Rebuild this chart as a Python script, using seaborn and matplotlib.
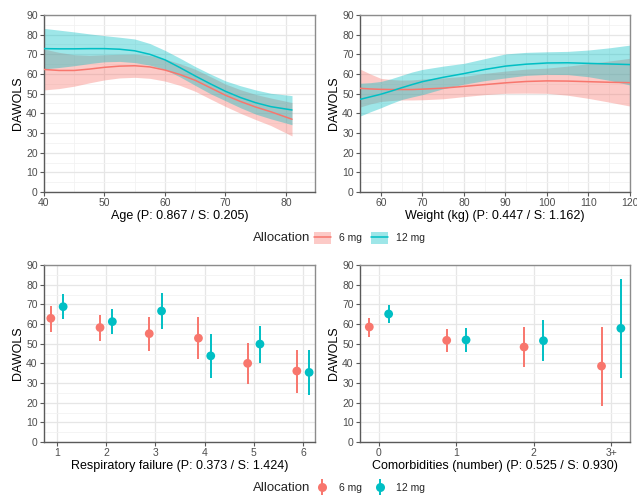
import numpy as np
import pandas as pd
import matplotlib
matplotlib.use("Agg")
import matplotlib.pyplot as plt
from matplotlib.patches import Patch
from matplotlib.lines import Line2D
from matplotlib.ticker import MultipleLocator, FixedLocator
import seaborn as sns

# ---------------- data ----------------
groups = ["6 mg", "12 mg"]
colors = {"6 mg": "#F8766D", "12 mg": "#00BFC4"}

age = [40, 42.5, 45, 47.5, 50, 52.5, 55, 57.5, 60, 62.5, 65, 67.5, 70, 72.5, 75, 77.5, 81]
age_fit_6 = [62.3, 61.8, 61.8, 62.5, 63.4, 64.0, 64.2, 63.6, 62.0, 59.7, 56.8, 53.0, 49.2, 46.0, 43.2, 40.8, 37.0]
age_lo_6 = [51.9, 52.6, 53.8, 55.5, 57.0, 58.0, 58.3, 57.8, 56.4, 54.2, 51.2, 47.3, 43.5, 40.0, 36.8, 33.8, 28.5]
age_hi_6 = [72.7, 71.0, 69.8, 69.5, 69.8, 70.0, 70.1, 69.4, 67.6, 65.2, 62.4, 58.7, 54.9, 52.0, 49.6, 47.8, 45.5]
age_fit_12 = [72.9, 72.8, 72.8, 72.9, 72.9, 72.6, 71.8, 70.0, 67.2, 63.2, 59.0, 55.0, 51.2, 48.0, 45.4, 43.4, 41.7]
age_lo_12 = [62.6, 63.3, 64.2, 65.3, 66.2, 66.4, 65.8, 64.5, 62.3, 58.5, 54.2, 50.0, 46.4, 42.8, 39.6, 37.2, 34.2]
age_hi_12 = [83.2, 82.3, 81.4, 80.4, 79.5, 78.7, 77.8, 75.5, 72.0, 68.0, 63.8, 60.0, 56.5, 54.0, 51.9, 50.2, 49.0]

weight = [55, 57.5, 60, 62.5, 65, 67.5, 70, 75, 80, 85, 90, 95, 100, 105, 110, 115, 120]
wt_fit_6 = [52.7, 52.4, 52.2, 52.1, 52.1, 52.1, 52.3, 52.8, 53.7, 54.6, 55.5, 56.2, 56.5, 56.4, 56.1, 55.8, 55.6]
wt_lo_6 = [43.2, 44.8, 46.0, 46.5, 46.8, 46.8, 46.9, 47.4, 48.5, 49.5, 50.2, 50.3, 50.2, 49.2, 47.6, 45.7, 43.7]
wt_hi_6 = [62.5, 60.0, 57.8, 57.2, 56.9, 57.0, 57.4, 58.0, 58.8, 60.3, 61.5, 62.5, 63.0, 64.0, 65.3, 66.6, 68.0]
wt_fit_12 = [47.1, 48.4, 49.7, 51.3, 53.0, 54.6, 56.1, 58.3, 60.2, 62.3, 64.0, 65.0, 65.6, 65.7, 65.4, 65.1, 64.8]
wt_lo_12 = [38.6, 40.8, 42.8, 45.0, 47.0, 48.3, 49.5, 52.5, 54.8, 56.6, 58.0, 59.3, 59.8, 59.7, 58.6, 56.8, 54.4]
wt_hi_12 = [55.3, 55.6, 56.2, 57.6, 59.3, 61.0, 62.3, 64.0, 65.4, 67.8, 70.2, 71.0, 71.3, 71.5, 72.2, 73.3, 74.7]

resp_cats = ["1", "2", "3", "4", "5", "6"]
resp_est_6 = [62.9, 58.2, 55.1, 52.8, 40.0, 36.1]
resp_lo_6 = [56.1, 51.5, 46.3, 42.0, 29.3, 25.1]
resp_hi_6 = [69.3, 64.5, 63.7, 63.4, 50.3, 46.8]
resp_est_12 = [68.8, 61.2, 66.6, 43.8, 49.8, 35.4]
resp_lo_12 = [62.5, 54.7, 57.5, 32.7, 40.3, 24.1]
resp_hi_12 = [75.2, 67.6, 75.6, 54.8, 59.1, 46.8]

com_cats = ["0", "1", "2", "3+"]
com_est_6 = [58.5, 51.7, 48.3, 38.6]
com_lo_6 = [53.6, 45.9, 38.3, 18.5]
com_hi_6 = [63.1, 57.5, 58.3, 58.7]
com_est_12 = [65.1, 51.9, 51.5, 57.8]
com_lo_12 = [60.3, 45.9, 41.2, 32.5]
com_hi_12 = [69.8, 57.9, 61.8, 82.8]

# ---------------- style ----------------
sns.set_theme(style="white")
plt.rcParams["font.family"] = ["Liberation Sans", "DejaVu Sans"]

W, H = 637, 498
fig = plt.figure(figsize=(W / 100, H / 100), dpi=100)


def add_ax(l, t, r, b):
    return fig.add_axes([l / W, 1 - b / H, (r - l) / W, (b - t) / H])


ax_age = add_ax(44, 15, 315, 192)
ax_wt = add_ax(360, 15, 630, 192)
ax_resp = add_ax(44, 265, 315, 442)
ax_com = add_ax(360, 265, 630, 442)

TICK_C = "#4D4D4D"


def style(ax, xlabel, xminor=None):
    ax.set_facecolor("white")
    ax.set_ylim(0, 90)
    ax.yaxis.set_major_locator(MultipleLocator(10))
    ax.yaxis.set_minor_locator(MultipleLocator(5))
    if xminor is not None:
        ax.xaxis.set_minor_locator(xminor)
    ax.grid(which="major", color="#E6E6E6", lw=0.9)
    ax.grid(which="minor", color="#F2F2F2", lw=0.6)
    ax.set_axisbelow(True)
    for s in ax.spines.values():
        s.set_color("#8C8C8C")
        s.set_linewidth(1.0)
    ax.spines["left"].set_color("#5A5A5A")
    ax.spines["bottom"].set_color("#5A5A5A")
    ax.tick_params(axis="both", which="major", length=3, width=0.8, color="#5A5A5A",
                   labelsize=7.5, labelcolor=TICK_C, pad=1.5, left=True, bottom=True)
    ax.tick_params(which="minor", length=0)
    ax.set_ylabel("DAWOLS", fontsize=9, color="black", labelpad=1.5)
    ax.set_xlabel(xlabel, fontsize=9, color="black", labelpad=1.5)


# ---- smooth panels ----
def smooth_panel(ax, x, fits, los, his, xname):
    rows = []
    for g in groups:
        for xi, yi in zip(x, fits[g]):
            rows.append({xname: xi, "DAWOLS": yi, "Allocation": g})
    df = pd.DataFrame(rows)
    for g in groups:
        ax.fill_between(x, los[g], his[g], color=colors[g], alpha=0.38, lw=0, zorder=2)
        sns.lineplot(data=df[df["Allocation"] == g], x=xname, y="DAWOLS", color=colors[g],
                     lw=1.1, ax=ax, legend=False, zorder=3)


smooth_panel(ax_age, age,
             {"6 mg": age_fit_6, "12 mg": age_fit_12},
             {"6 mg": age_lo_6, "12 mg": age_lo_12},
             {"6 mg": age_hi_6, "12 mg": age_hi_12}, "Age")
ax_age.set_xlim(40, 84.8)
ax_age.xaxis.set_major_locator(FixedLocator([40, 50, 60, 70, 80]))
style(ax_age, "Age (P: 0.867 / S: 0.205)", FixedLocator([45, 55, 65, 75]))

smooth_panel(ax_wt, weight,
             {"6 mg": wt_fit_6, "12 mg": wt_fit_12},
             {"6 mg": wt_lo_6, "12 mg": wt_lo_12},
             {"6 mg": wt_hi_6, "12 mg": wt_hi_12}, "Weight")
ax_wt.set_xlim(55, 120)
ax_wt.xaxis.set_major_locator(FixedLocator([60, 70, 80, 90, 100, 110, 120]))
style(ax_wt, "Weight (kg) (P: 0.447 / S: 1.162)", FixedLocator([55, 65, 75, 85, 95, 105, 115]))


# ---- point panels ----
def point_panel(ax, cats, est, lo, hi, start):
    dodge = {"6 mg": -0.125, "12 mg": 0.125}
    rows = []
    for g in groups:
        for i, c in enumerate(cats):
            rows.append({"pos": start + i + dodge[g], "DAWOLS": est[g][i],
                         "lo": lo[g][i], "hi": hi[g][i], "Allocation": g})
    df = pd.DataFrame(rows)
    for g in groups:
        d = df[df["Allocation"] == g]
        ax.vlines(d["pos"], d["lo"], d["hi"], color=colors[g], lw=1.4, zorder=3)
    sns.scatterplot(data=df, x="pos", y="DAWOLS", hue="Allocation", palette=colors,
                    s=40, edgecolor="none", ax=ax, legend=False, zorder=4)
    ax.set_xticks([start + i for i in range(len(cats))])
    ax.set_xticklabels(cats)


point_panel(ax_resp, resp_cats,
            {"6 mg": resp_est_6, "12 mg": resp_est_12},
            {"6 mg": resp_lo_6, "12 mg": resp_lo_12},
            {"6 mg": resp_hi_6, "12 mg": resp_hi_12}, 1)
ax_resp.set_xlim(0.736, 6.244)
style(ax_resp, "Respiratory failure (P: 0.373 / S: 1.424)", FixedLocator([]))

point_panel(ax_com, com_cats,
            {"6 mg": com_est_6, "12 mg": com_est_12},
            {"6 mg": com_lo_6, "12 mg": com_lo_12},
            {"6 mg": com_hi_6, "12 mg": com_hi_12}, 0)
ax_com.set_xlim(-0.245, 3.243)
style(ax_com, "Comorbidities (number) (P: 0.525 / S: 0.930)", FixedLocator([]))

# ---- legends ----
def legend_row(yc, handles):
    fig.text(253 / W, yc, "Allocation", fontsize=9.5, va="center", ha="left")
    fig.legend(handles=handles, labels=groups, loc="center left",
               bbox_to_anchor=(314 / W, yc), ncol=2, frameon=False, fontsize=7.5,
               handlelength=1.6, handleheight=1.5, handletextpad=0.8, columnspacing=0.9,
               borderaxespad=0, borderpad=0)


band_handles = [(Patch(facecolor=colors[g], alpha=0.38, edgecolor="none"),
                 Line2D([], [], color=colors[g], lw=1.1)) for g in groups]
legend_row(1 - 238 / H, band_handles)

pt_handles = [(Line2D([], [], color=colors[g], marker="|", markersize=12, mew=1.4, ls="none"),
               Line2D([], [], color=colors[g], marker="o", markersize=6.5, mec="none", ls="none"))
              for g in groups]
legend_row(1 - 488 / H, pt_handles)

fig.savefig("out.png", dpi=100)
